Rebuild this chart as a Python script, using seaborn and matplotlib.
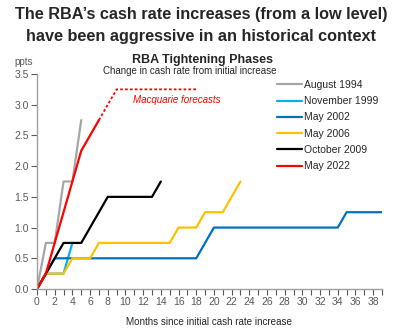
import numpy as np
import pandas as pd
import matplotlib
matplotlib.use("Agg")
import matplotlib.pyplot as plt
import seaborn as sns

# ---- data (ppts change in cash rate vs months since initial increase) ----
aug1994 = [0, 0.75, 0.75, 1.75, 1.75, 2.75]
nov1999 = [0, 0.25, 0.25, 0.25, 0.75]
may2002 = [0, 0.25, 0.5] + [0.5] * 16 + [0.75] + [1.0] * 15 + [1.25] * 5
may2006 = [0, 0.25, 0.25, 0.25, 0.5, 0.5, 0.5] + [0.75] * 9 + [1.0, 1.0, 1.0, 1.25, 1.25, 1.25, 1.5, 1.75]
oct2009 = [0, 0.25, 0.5, 0.75, 0.75, 0.75, 1.0, 1.25] + [1.5] * 6 + [1.75]
may2022 = [0, 0.25, 0.75, 1.25, 1.75, 2.25, 2.5, 2.75]
forecast_months = list(range(7, 19))
forecast_values = [2.75, 3.0] + [3.25] * 10

series_names = ["August 1994", "November 1999", "May 2002", "May 2006", "October 2009", "May 2022"]
series_values = [aug1994, nov1999, may2002, may2006, oct2009, may2022]
colors = ["#A6A6A6", "#00B0F0", "#0070C0", "#FFC000", "#000000", "#FF0000"]

x_ticks = list(range(0, 39, 2))
y_ticks = [0.0, 0.5, 1.0, 1.5, 2.0, 2.5, 3.0, 3.5]

rows = []
for name, vals in zip(series_names, series_values):
    for m, v in enumerate(vals):
        rows.append({"month": m, "change": v, "phase": name})
df = pd.DataFrame(rows)
fc = pd.DataFrame({"month": forecast_months, "change": forecast_values})

sns.set_style("white")
plt.rcParams["font.family"] = ["Liberation Sans", "DejaVu Sans"]

fig = plt.figure(figsize=(4.01, 3.29), dpi=100)
ax = fig.add_axes([37 / 401, 1 - 289 / 329, 345 / 401, 215 / 329])

sns.lineplot(data=df, x="month", y="change", hue="phase", hue_order=series_names,
             palette=colors, linewidth=1.6, ax=ax, estimator=None, sort=False)
sns.lineplot(data=fc, x="month", y="change", color="#FF0000", linewidth=1.3,
             linestyle=(0, (1.5, 1.2)), ax=ax, legend=False)

ax.set_xlim(0, 39)
ax.set_ylim(0, 3.5)
ax.set_xticks(x_ticks)
ax.set_xticks(range(0, 40), minor=True)
ax.set_yticks(y_ticks)
ax.set_yticklabels([f"{t:.1f}" for t in y_ticks])
ax.tick_params(axis="both", which="both", labelsize=7.5, colors="#595959", labelcolor="#595959")
ax.tick_params(axis="x", which="major", length=4, width=0.8, direction="out", bottom=True, pad=2)
ax.tick_params(axis="x", which="minor", length=4, width=0.8, direction="out", bottom=True)
ax.tick_params(axis="y", which="major", length=4, width=0.8, direction="out", left=True, pad=2)
for s in ["top", "right"]:
    ax.spines[s].set_visible(False)
for s in ["left", "bottom"]:
    ax.spines[s].set_color("#A0A0A0")
    ax.spines[s].set_linewidth(1.0)

ax.set_xlabel("Months since initial cash rate increase", fontsize=7.1, color="#262626", labelpad=7)
ax.set_ylabel("")

ax.text(10.8, 3.07, "Macquarie forecasts", color="#FF0000", fontsize=7, style="italic",
        ha="left", va="center")

handles, labels = ax.get_legend_handles_labels()
leg = ax.legend(handles, labels, loc="upper left", bbox_to_anchor=(277 / 401, 1 - 80 / 329),
                bbox_transform=fig.transFigure, frameon=False, fontsize=7.5, handlelength=2.4,
                handletextpad=0.2, labelspacing=0.6, borderaxespad=0, borderpad=0)
for t in leg.get_texts():
    t.set_color("#262626")

fig.text(0.5 + 1 / 401, 1 - 15 / 329, "The RBA\u2019s cash rate increases (from a low level)",
         ha="center", va="center", fontsize=11.7, fontweight="bold", color="#262626")
fig.text(0.5 + 1 / 401, 1 - 37 / 329, "have been aggressive in an historical context",
         ha="center", va="center", fontsize=11.7, fontweight="bold", color="#262626")
fig.text(203 / 401, 1 - 60 / 329, "RBA Tightening Phases", ha="center", va="center",
         fontsize=9, fontweight="bold", color="#262626")
fig.text(190 / 401, 1 - 71 / 329, "Change in cash rate from initial increase", ha="center",
         va="center", fontsize=7, color="#262626")
fig.text(24 / 401, 1 - 62 / 329, "ppts", ha="center", va="center", fontsize=7, color="#595959")

fig.savefig("out.png", dpi=100)
